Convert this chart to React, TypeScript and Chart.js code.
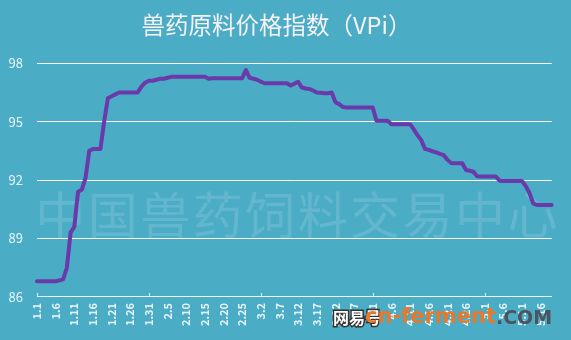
import React, { useEffect, useRef } from "react";
import { Chart, registerables } from "chart.js";

Chart.register(...registerables);

// Daily categories, 2019-01-01 .. 2019-05-19 (month.day)
const monthLengths = [31, 28, 31, 30, 31];
const dayCount = 139;
function buildDates(n: number): string[] {
  const out: string[] = [];
  let m = 0;
  let d = 1;
  for (let i = 0; i < n; i++) {
    out.push(`${m + 1}.${d}`);
    d++;
    if (d > monthLengths[m]) {
      d = 1;
      m++;
    }
  }
  return out;
}
const categories = buildDates(dayCount);

// VPi index values (one per day)
const vpiValues = [
  86.8, 86.8, 86.8, 86.8, 86.8, 86.8, 86.85, 86.9, 87.5, 89.3,
  89.6, 91.4, 91.5, 92.1, 93.5, 93.6, 93.6, 93.6, 95.0, 96.2,
  96.3, 96.4, 96.5, 96.5, 96.5, 96.5, 96.5, 96.5, 96.8, 97.0,
  97.1, 97.1, 97.15, 97.2, 97.2, 97.25, 97.3, 97.3, 97.3, 97.3,
  97.3, 97.3, 97.3, 97.3, 97.3, 97.3, 97.2, 97.23, 97.23, 97.23,
  97.23, 97.23, 97.23, 97.23, 97.23, 97.23, 97.65, 97.25, 97.2, 97.15,
  97.05, 96.97, 96.97, 96.97, 96.97, 96.97, 96.97, 96.97, 96.85, 96.95,
  97.05, 96.75, 96.7, 96.68, 96.6, 96.5, 96.48, 96.46, 96.46, 96.5,
  96.0, 95.9, 95.75, 95.72, 95.72, 95.72, 95.72, 95.72, 95.72, 95.72,
  95.72, 95.05, 95.04, 95.04, 95.04, 94.87, 94.87, 94.87, 94.87, 94.87,
  94.87, 94.6, 94.3, 94.05, 93.6, 93.55, 93.48, 93.42, 93.35, 93.28,
  93.05, 92.88, 92.86, 92.86, 92.86, 92.52, 92.48, 92.43, 92.2, 92.18,
  92.18, 92.18, 92.18, 92.18, 91.97, 91.95, 91.95, 91.95, 91.95, 91.95,
  91.95, 91.7, 91.35, 90.8, 90.72, 90.72, 90.72, 90.72, 90.72,
];

const yTickValues = [86, 89, 92, 95, 98];
const labelEvery = 5;
const tickMarkEvery = 30;

const titleText = "兽药原料价格指数（VPi）";
const watermarkText = "中国兽药饲料交易中心";

const BG = "#4BACC6";
const LINE = "#6A3AAA";
const TEXT = "#EAF6FA";
const CJK = "'Noto Sans CJK SC', 'Noto Sans', sans-serif";

const bgPlugin = {
  id: "bgFill",
  beforeDraw(chart: any) {
    const { ctx, width, height } = chart;
    ctx.save();
    ctx.fillStyle = BG;
    ctx.fillRect(0, 0, width, height);
    ctx.restore();
  },
};

const watermarkPlugin = {
  id: "watermark",
  beforeDatasetsDraw(chart: any) {
    const { ctx, chartArea } = chart;
    ctx.save();
    ctx.fillStyle = "rgba(255,255,255,0.13)";
    ctx.font = `50px ${CJK}`;
    ctx.textAlign = "center";
    ctx.textBaseline = "middle";
    const cx = (chartArea.left + chartArea.right) / 2 + 2;
    const cy = chartArea.top + (chartArea.bottom - chartArea.top) * 0.65;
    const chars = Array.from(watermarkText);
    const span = chartArea.right - chartArea.left + 10;
    const step = span / chars.length;
    chars.forEach((c, i) => {
      ctx.fillText(c, cx - span / 2 + step * (i + 0.5), cy);
    });
    ctx.restore();
  },
};

const tickMarksPlugin = {
  id: "tickMarks",
  afterDatasetsDraw(chart: any) {
    const x = chart.scales.x;
    const y = chart.scales.y;
    const ctx = chart.ctx;
    ctx.save();
    ctx.strokeStyle = TEXT;
    ctx.lineWidth = 1;
    for (let i = 0; i < categories.length; i += tickMarkEvery) {
      const px = Math.round(x.getPixelForValue(i)) + 0.5;
      ctx.beginPath();
      ctx.moveTo(px, y.bottom);
      ctx.lineTo(px, y.bottom - 4);
      ctx.stroke();
    }
    ctx.restore();
  },
};

const logoPlugin = {
  id: "logo",
  afterDraw(chart: any) {
    const { ctx, height } = chart;
    ctx.save();
    ctx.textBaseline = "middle";
    const y = height - 22;
    ctx.font = `bold 16px ${CJK}`;
    ctx.lineWidth = 3;
    ctx.strokeStyle = "#333";
    ctx.fillStyle = "#ffffff";
    ctx.textAlign = "left";
    ctx.strokeText("网易号", 333, y);
    ctx.fillText("网易号", 333, y);
    ctx.font = `bold 21px 'DejaVu Sans', sans-serif`;
    ctx.fillStyle = "#E8782A";
    ctx.fillText("cn-ferment", 365, y);
    const w = ctx.measureText("cn-ferment").width;
    ctx.fillStyle = "#4A5560";
    ctx.font = `bold 19px 'DejaVu Sans', sans-serif`;
    ctx.fillText(".COM", 365 + w, y + 1);
    ctx.restore();
  },
};

export default function App() {
  const canvasRef = useRef<HTMLCanvasElement | null>(null);

  useEffect(() => {
    if (!canvasRef.current) return;
    const chart = new Chart(canvasRef.current, {
      type: "line",
      data: {
        labels: categories,
        datasets: [
          {
            label: "VPi",
            data: vpiValues,
            borderColor: LINE,
            borderWidth: 4,
            pointRadius: 0,
            tension: 0,
            fill: false,
            borderJoinStyle: "round",
            borderCapStyle: "round",
          },
        ],
      },
      options: {
        animation: false,
        responsive: false,
        maintainAspectRatio: false,
        layout: { padding: { left: 0, right: 18, top: 0, bottom: 8 } },
        plugins: {
          legend: { display: false },
          tooltip: { enabled: false },
          title: {
            display: true,
            text: titleText,
            color: "#F6F2F6",
            font: { family: CJK, size: 23.5, weight: "normal" },
            padding: { top: 11, bottom: 24 },
          },
        },
        scales: {
          x: {
            type: "category",
            offset: false,
            grid: { display: false, drawTicks: false },
            border: { display: true, color: TEXT, width: 1 },
            ticks: {
              autoSkip: false,
              minRotation: 90,
              maxRotation: 90,
              padding: 6,
              color: TEXT,
              font: { family: CJK, size: 11, weight: "bold" },
              callback: (_v: any, idx: number) =>
                idx % labelEvery === 0 ? categories[idx] : "",
            },
          },
          y: {
            min: 86,
            max: 98,
            afterBuildTicks: (axis: any) => {
              axis.ticks = yTickValues.map((v) => ({ value: v }));
            },
            afterFit: (axis: any) => {
              axis.width = 37;
            },
            grid: { color: "#FFFFFF", lineWidth: 1, drawTicks: false },
            border: { display: false },
            ticks: {
              padding: 14,
              color: TEXT,
              font: { family: CJK, size: 13 },
            },
          },
        },
      },
      plugins: [bgPlugin, watermarkPlugin, tickMarksPlugin, logoPlugin],
    } as any);
    return () => chart.destroy();
  }, []);

  return (
    <div
      style={{
        position: "fixed",
        left: 0,
        top: 0,
        width: 571,
        height: 340,
        background: BG,
      }}
    >
      <canvas ref={canvasRef} width={571} height={340} />
    </div>
  );
}
